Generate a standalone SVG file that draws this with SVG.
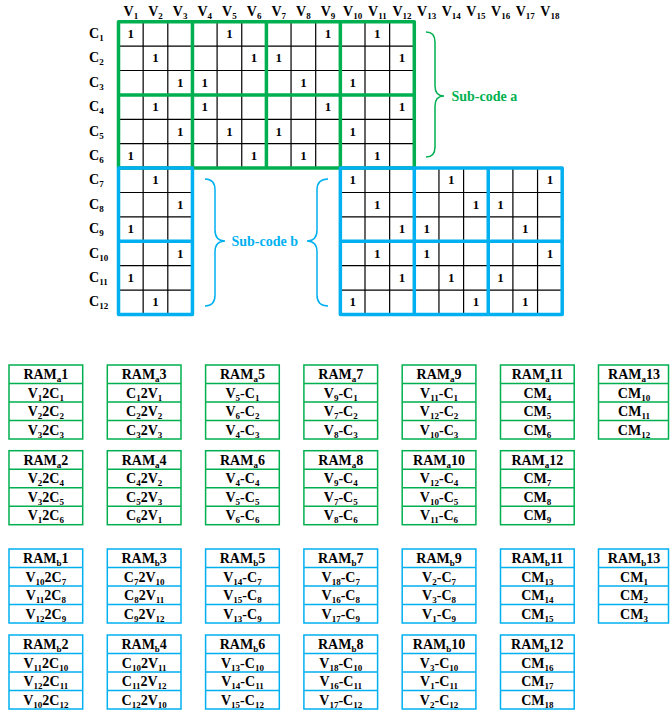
<svg xmlns="http://www.w3.org/2000/svg" xmlns:xlink="http://www.w3.org/1999/xlink" width="670" height="715" viewBox="0 0 670 715">
<style>
.t{font-family:"Liberation Serif","Times New Roman",serif;font-weight:bold;font-size:14px;fill:#000}
.c{text-anchor:middle}
.s{font-size:9px}
.one{font-family:"Liberation Serif","Times New Roman",serif;font-weight:bold;font-size:13px;fill:#000;text-anchor:middle}
.thin{stroke:#000;stroke-width:1.2;fill:none}
.ka{stroke:#00b050;stroke-width:3.5;fill:none;stroke-linejoin:round}
.kb{stroke:#00b0f0;stroke-width:3.5;fill:none;stroke-linejoin:round}
.fa{stroke:#00b050;stroke-width:1.5;fill:#fff}
.fb{stroke:#00b0f0;stroke-width:1.5;fill:#fff}
.fal{stroke:#00b050;stroke-width:1.5;fill:none}
.fbl{stroke:#00b0f0;stroke-width:1.5;fill:none}
.ba{stroke:#00b050;stroke-width:1.5;fill:none}
.bb{stroke:#00b0f0;stroke-width:1.5;fill:none}
.la{fill:#00b050}
.lb{fill:#00b0f0}
</style>
<defs>
<g id="frameA"><rect x="0" y="0" width="73.7" height="74" class="fa"/><path d="M0,18.5H73.7M0,37H73.7M0,55.5H73.7" class="fal"/></g>
<g id="frameB"><rect x="0" y="0" width="73.7" height="74" class="fb"/><path d="M0,18.5H73.7M0,37H73.7M0,55.5H73.7" class="fbl"/></g>
<g id="frameA2"><rect x="0" y="0" width="70" height="74" class="fa"/><path d="M0,18.5H70M0,37H70M0,55.5H70" class="fal"/></g>
<g id="frameB2"><rect x="0" y="0" width="70" height="74" class="fb"/><path d="M0,18.5H70M0,37H70M0,55.5H70" class="fbl"/></g>
</defs>

<g id="column-headers" class="t c">
<text x="130.83" y="16">V<tspan class="s" dy="3">1</tspan></text>
<text x="155.48" y="16">V<tspan class="s" dy="3">2</tspan></text>
<text x="180.13" y="16">V<tspan class="s" dy="3">3</tspan></text>
<text x="204.78" y="16">V<tspan class="s" dy="3">4</tspan></text>
<text x="229.43" y="16">V<tspan class="s" dy="3">5</tspan></text>
<text x="254.08" y="16">V<tspan class="s" dy="3">6</tspan></text>
<text x="278.73" y="16">V<tspan class="s" dy="3">7</tspan></text>
<text x="303.38" y="16">V<tspan class="s" dy="3">8</tspan></text>
<text x="328.03" y="16">V<tspan class="s" dy="3">9</tspan></text>
<text x="352.68" y="16">V<tspan class="s" dy="3">10</tspan></text>
<text x="377.33" y="16">V<tspan class="s" dy="3">11</tspan></text>
<text x="401.98" y="16">V<tspan class="s" dy="3">12</tspan></text>
<text x="426.63" y="16">V<tspan class="s" dy="3">13</tspan></text>
<text x="451.28" y="16">V<tspan class="s" dy="3">14</tspan></text>
<text x="475.93" y="16">V<tspan class="s" dy="3">15</tspan></text>
<text x="500.58" y="16">V<tspan class="s" dy="3">16</tspan></text>
<text x="525.23" y="16">V<tspan class="s" dy="3">17</tspan></text>
<text x="549.88" y="16">V<tspan class="s" dy="3">18</tspan></text>
</g>

<g id="row-labels" class="t">
<text x="89" y="37.9">C<tspan class="s" dy="3">1</tspan></text>
<text x="89" y="62.3">C<tspan class="s" dy="3">2</tspan></text>
<text x="89" y="86.7">C<tspan class="s" dy="3">3</tspan></text>
<text x="89" y="111.1">C<tspan class="s" dy="3">4</tspan></text>
<text x="89" y="135.5">C<tspan class="s" dy="3">5</tspan></text>
<text x="89" y="159.9">C<tspan class="s" dy="3">6</tspan></text>
<text x="89" y="184.3">C<tspan class="s" dy="3">7</tspan></text>
<text x="89" y="208.7">C<tspan class="s" dy="3">8</tspan></text>
<text x="89" y="233.1">C<tspan class="s" dy="3">9</tspan></text>
<text x="89" y="257.5">C<tspan class="s" dy="3">10</tspan></text>
<text x="89" y="281.9">C<tspan class="s" dy="3">11</tspan></text>
<text x="89" y="306.3">C<tspan class="s" dy="3">12</tspan></text>
</g>

<g id="subcode-a-matrix">
<path class="thin" d="M143.15,21.7V168.1M167.8,21.7V168.1M217.1,21.7V168.1M241.75,21.7V168.1M291.05,21.7V168.1M315.7,21.7V168.1M365,21.7V168.1M389.65,21.7V168.1M118.5,46.1H414.3M118.5,70.5H414.3M118.5,119.3H414.3M118.5,143.7H414.3"/>
<rect class="ka" x="118.5" y="21.7" width="295.8" height="146.4"/>
<path class="ka" d="M192.45,21.7V168.1M266.4,21.7V168.1M340.35,21.7V168.1M118.5,94.9H414.3"/>
<g class="one">
<text x="130.83" y="37.9">1</text><text x="229.43" y="37.9">1</text><text x="328.03" y="37.9">1</text><text x="377.33" y="37.9">1</text>
<text x="155.48" y="62.3">1</text><text x="254.08" y="62.3">1</text><text x="278.73" y="62.3">1</text><text x="401.98" y="62.3">1</text>
<text x="180.13" y="86.7">1</text><text x="204.78" y="86.7">1</text><text x="303.38" y="86.7">1</text><text x="352.68" y="86.7">1</text>
<text x="155.48" y="111.1">1</text><text x="204.78" y="111.1">1</text><text x="328.03" y="111.1">1</text><text x="401.98" y="111.1">1</text>
<text x="180.13" y="135.5">1</text><text x="229.43" y="135.5">1</text><text x="278.73" y="135.5">1</text><text x="352.68" y="135.5">1</text>
<text x="130.83" y="159.9">1</text><text x="254.08" y="159.9">1</text><text x="303.38" y="159.9">1</text><text x="377.33" y="159.9">1</text>
</g>
</g>

<g id="subcode-b-left-matrix">
<path class="thin" d="M143.15,168.1V314.5M167.8,168.1V314.5M118.5,192.5H192.45M118.5,216.9H192.45M118.5,265.7H192.45M118.5,290.1H192.45"/>
<rect class="kb" x="118.5" y="168.1" width="73.95" height="146.4"/>
<path class="kb" d="M118.5,241.3H192.45"/>
<g class="one">
<text x="155.48" y="184.3">1</text>
<text x="180.13" y="208.7">1</text>
<text x="130.83" y="233.1">1</text>
<text x="180.13" y="257.5">1</text>
<text x="130.83" y="281.9">1</text>
<text x="155.48" y="306.3">1</text>
</g>
</g>

<g id="subcode-b-right-matrix">
<path class="thin" d="M365,168.1V314.5M389.65,168.1V314.5M438.95,168.1V314.5M463.6,168.1V314.5M512.9,168.1V314.5M537.55,168.1V314.5M340.35,192.5H562.2M340.35,216.9H562.2M340.35,265.7H562.2M340.35,290.1H562.2"/>
<rect class="kb" x="340.35" y="168.1" width="221.85" height="146.4"/>
<path class="kb" d="M414.3,168.1V314.5M488.25,168.1V314.5M340.35,241.3H562.2"/>
<g class="one">
<text x="352.68" y="184.3">1</text><text x="451.28" y="184.3">1</text><text x="549.88" y="184.3">1</text>
<text x="377.33" y="208.7">1</text><text x="475.93" y="208.7">1</text><text x="500.58" y="208.7">1</text>
<text x="401.98" y="233.1">1</text><text x="426.63" y="233.1">1</text><text x="525.23" y="233.1">1</text>
<text x="377.33" y="257.5">1</text><text x="426.63" y="257.5">1</text><text x="549.88" y="257.5">1</text>
<text x="401.98" y="281.9">1</text><text x="451.28" y="281.9">1</text><text x="500.58" y="281.9">1</text>
<text x="352.68" y="306.3">1</text><text x="475.93" y="306.3">1</text><text x="525.23" y="306.3">1</text>
</g>
</g>

<g id="subcode-a-label">
<path class="ba" d="M426,32Q435,32 435,42L435,86Q435,96 444,96Q435,96 435,106L435,147Q435,157 426,157"/>
<text class="t la" x="451.5" y="101">Sub-code a</text>
</g>

<g id="subcode-b-label">
<path class="bb" d="M205,179Q215,179 215,190L215,230Q215,241 225,241Q215,241 215,252L215,295Q215,306 205,306"/>
<path class="bb" d="M328,179Q317,179 317,190L317,230Q317,241 307,241Q317,241 317,252L317,295Q317,306 328,306"/>
<text class="t lb" x="231.5" y="246">Sub-code b</text>
</g>

<g id="connectors"></g>

<!-- RAM a, row 1 -->
<g id="RAMa1" transform="translate(9,365)"><use xlink:href="#frameA"/><g class="t c">
<text x="36.85" y="14.2">RAM<tspan class="s" dy="3">a</tspan><tspan dy="-3">1</tspan></text>
<text x="36.85" y="32.7">V<tspan class="s" dy="3">1</tspan><tspan dy="-3">2C</tspan><tspan class="s" dy="3">1</tspan></text>
<text x="36.85" y="51.2">V<tspan class="s" dy="3">2</tspan><tspan dy="-3">2C</tspan><tspan class="s" dy="3">2</tspan></text>
<text x="36.85" y="69.7">V<tspan class="s" dy="3">3</tspan><tspan dy="-3">2C</tspan><tspan class="s" dy="3">3</tspan></text></g></g>
<g id="RAMa3" transform="translate(107.3,365)"><use xlink:href="#frameA"/><g class="t c">
<text x="36.85" y="14.2">RAM<tspan class="s" dy="3">a</tspan><tspan dy="-3">3</tspan></text>
<text x="36.85" y="32.7">C<tspan class="s" dy="3">1</tspan><tspan dy="-3">2V</tspan><tspan class="s" dy="3">1</tspan></text>
<text x="36.85" y="51.2">C<tspan class="s" dy="3">2</tspan><tspan dy="-3">2V</tspan><tspan class="s" dy="3">2</tspan></text>
<text x="36.85" y="69.7">C<tspan class="s" dy="3">3</tspan><tspan dy="-3">2V</tspan><tspan class="s" dy="3">3</tspan></text></g></g>
<g id="RAMa5" transform="translate(205.6,365)"><use xlink:href="#frameA"/><g class="t c">
<text x="36.85" y="14.2">RAM<tspan class="s" dy="3">a</tspan><tspan dy="-3">5</tspan></text>
<text x="36.85" y="32.7">V<tspan class="s" dy="3">5</tspan><tspan dy="-3">-C</tspan><tspan class="s" dy="3">1</tspan></text>
<text x="36.85" y="51.2">V<tspan class="s" dy="3">6</tspan><tspan dy="-3">-C</tspan><tspan class="s" dy="3">2</tspan></text>
<text x="36.85" y="69.7">V<tspan class="s" dy="3">4</tspan><tspan dy="-3">-C</tspan><tspan class="s" dy="3">3</tspan></text></g></g>
<g id="RAMa7" transform="translate(303.9,365)"><use xlink:href="#frameA"/><g class="t c">
<text x="36.85" y="14.2">RAM<tspan class="s" dy="3">a</tspan><tspan dy="-3">7</tspan></text>
<text x="36.85" y="32.7">V<tspan class="s" dy="3">9</tspan><tspan dy="-3">-C</tspan><tspan class="s" dy="3">1</tspan></text>
<text x="36.85" y="51.2">V<tspan class="s" dy="3">7</tspan><tspan dy="-3">-C</tspan><tspan class="s" dy="3">2</tspan></text>
<text x="36.85" y="69.7">V<tspan class="s" dy="3">8</tspan><tspan dy="-3">-C</tspan><tspan class="s" dy="3">3</tspan></text></g></g>
<g id="RAMa9" transform="translate(402.2,365)"><use xlink:href="#frameA"/><g class="t c">
<text x="36.85" y="14.2">RAM<tspan class="s" dy="3">a</tspan><tspan dy="-3">9</tspan></text>
<text x="36.85" y="32.7">V<tspan class="s" dy="3">11</tspan><tspan dy="-3">-C</tspan><tspan class="s" dy="3">1</tspan></text>
<text x="36.85" y="51.2">V<tspan class="s" dy="3">12</tspan><tspan dy="-3">-C</tspan><tspan class="s" dy="3">2</tspan></text>
<text x="36.85" y="69.7">V<tspan class="s" dy="3">10</tspan><tspan dy="-3">-C</tspan><tspan class="s" dy="3">3</tspan></text></g></g>
<g id="RAMa11" transform="translate(500.5,365)"><use xlink:href="#frameA"/><g class="t c">
<text x="36.85" y="14.2">RAM<tspan class="s" dy="3">a</tspan><tspan dy="-3">11</tspan></text>
<text x="36.85" y="32.7">CM<tspan class="s" dy="3">4</tspan></text>
<text x="36.85" y="51.2">CM<tspan class="s" dy="3">5</tspan></text>
<text x="36.85" y="69.7">CM<tspan class="s" dy="3">6</tspan></text></g></g>
<g id="RAMa13" transform="translate(598.5,365)"><use xlink:href="#frameA2"/><g class="t c">
<text x="35.5" y="14.2">RAM<tspan class="s" dy="3">a</tspan><tspan dy="-3">13</tspan></text>
<text x="35.5" y="32.7">CM<tspan class="s" dy="3">10</tspan></text>
<text x="35.5" y="51.2">CM<tspan class="s" dy="3">11</tspan></text>
<text x="35.5" y="69.7">CM<tspan class="s" dy="3">12</tspan></text></g></g>

<!-- RAM a, row 2 -->
<g id="RAMa2" transform="translate(9,450.7)"><use xlink:href="#frameA"/><g class="t c">
<text x="36.85" y="14.2">RAM<tspan class="s" dy="3">a</tspan><tspan dy="-3">2</tspan></text>
<text x="36.85" y="32.7">V<tspan class="s" dy="3">2</tspan><tspan dy="-3">2C</tspan><tspan class="s" dy="3">4</tspan></text>
<text x="36.85" y="51.2">V<tspan class="s" dy="3">3</tspan><tspan dy="-3">2C</tspan><tspan class="s" dy="3">5</tspan></text>
<text x="36.85" y="69.7">V<tspan class="s" dy="3">1</tspan><tspan dy="-3">2C</tspan><tspan class="s" dy="3">6</tspan></text></g></g>
<g id="RAMa4" transform="translate(107.3,450.7)"><use xlink:href="#frameA"/><g class="t c">
<text x="36.85" y="14.2">RAM<tspan class="s" dy="3">a</tspan><tspan dy="-3">4</tspan></text>
<text x="36.85" y="32.7">C<tspan class="s" dy="3">4</tspan><tspan dy="-3">2V</tspan><tspan class="s" dy="3">2</tspan></text>
<text x="36.85" y="51.2">C<tspan class="s" dy="3">5</tspan><tspan dy="-3">2V</tspan><tspan class="s" dy="3">3</tspan></text>
<text x="36.85" y="69.7">C<tspan class="s" dy="3">6</tspan><tspan dy="-3">2V</tspan><tspan class="s" dy="3">1</tspan></text></g></g>
<g id="RAMa6" transform="translate(205.6,450.7)"><use xlink:href="#frameA"/><g class="t c">
<text x="36.85" y="14.2">RAM<tspan class="s" dy="3">a</tspan><tspan dy="-3">6</tspan></text>
<text x="36.85" y="32.7">V<tspan class="s" dy="3">4</tspan><tspan dy="-3">-C</tspan><tspan class="s" dy="3">4</tspan></text>
<text x="36.85" y="51.2">V<tspan class="s" dy="3">5</tspan><tspan dy="-3">-C</tspan><tspan class="s" dy="3">5</tspan></text>
<text x="36.85" y="69.7">V<tspan class="s" dy="3">6</tspan><tspan dy="-3">-C</tspan><tspan class="s" dy="3">6</tspan></text></g></g>
<g id="RAMa8" transform="translate(303.9,450.7)"><use xlink:href="#frameA"/><g class="t c">
<text x="36.85" y="14.2">RAM<tspan class="s" dy="3">a</tspan><tspan dy="-3">8</tspan></text>
<text x="36.85" y="32.7">V<tspan class="s" dy="3">9</tspan><tspan dy="-3">-C</tspan><tspan class="s" dy="3">4</tspan></text>
<text x="36.85" y="51.2">V<tspan class="s" dy="3">7</tspan><tspan dy="-3">-C</tspan><tspan class="s" dy="3">5</tspan></text>
<text x="36.85" y="69.7">V<tspan class="s" dy="3">8</tspan><tspan dy="-3">-C</tspan><tspan class="s" dy="3">6</tspan></text></g></g>
<g id="RAMa10" transform="translate(402.2,450.7)"><use xlink:href="#frameA"/><g class="t c">
<text x="36.85" y="14.2">RAM<tspan class="s" dy="3">a</tspan><tspan dy="-3">10</tspan></text>
<text x="36.85" y="32.7">V<tspan class="s" dy="3">12</tspan><tspan dy="-3">-C</tspan><tspan class="s" dy="3">4</tspan></text>
<text x="36.85" y="51.2">V<tspan class="s" dy="3">10</tspan><tspan dy="-3">-C</tspan><tspan class="s" dy="3">5</tspan></text>
<text x="36.85" y="69.7">V<tspan class="s" dy="3">11</tspan><tspan dy="-3">-C</tspan><tspan class="s" dy="3">6</tspan></text></g></g>
<g id="RAMa12" transform="translate(500.5,450.7)"><use xlink:href="#frameA"/><g class="t c">
<text x="36.85" y="14.2">RAM<tspan class="s" dy="3">a</tspan><tspan dy="-3">12</tspan></text>
<text x="36.85" y="32.7">CM<tspan class="s" dy="3">7</tspan></text>
<text x="36.85" y="51.2">CM<tspan class="s" dy="3">8</tspan></text>
<text x="36.85" y="69.7">CM<tspan class="s" dy="3">9</tspan></text></g></g>

<!-- RAM b, row 1 -->
<g id="RAMb1" transform="translate(9,549)"><use xlink:href="#frameB"/><g class="t c">
<text x="36.85" y="14.2">RAM<tspan class="s" dy="3">b</tspan><tspan dy="-3">1</tspan></text>
<text x="36.85" y="32.7">V<tspan class="s" dy="3">10</tspan><tspan dy="-3">2C</tspan><tspan class="s" dy="3">7</tspan></text>
<text x="36.85" y="51.2">V<tspan class="s" dy="3">11</tspan><tspan dy="-3">2C</tspan><tspan class="s" dy="3">8</tspan></text>
<text x="36.85" y="69.7">V<tspan class="s" dy="3">12</tspan><tspan dy="-3">2C</tspan><tspan class="s" dy="3">9</tspan></text></g></g>
<g id="RAMb3" transform="translate(107.3,549)"><use xlink:href="#frameB"/><g class="t c">
<text x="36.85" y="14.2">RAM<tspan class="s" dy="3">b</tspan><tspan dy="-3">3</tspan></text>
<text x="36.85" y="32.7">C<tspan class="s" dy="3">7</tspan><tspan dy="-3">2V</tspan><tspan class="s" dy="3">10</tspan></text>
<text x="36.85" y="51.2">C<tspan class="s" dy="3">8</tspan><tspan dy="-3">2V</tspan><tspan class="s" dy="3">11</tspan></text>
<text x="36.85" y="69.7">C<tspan class="s" dy="3">9</tspan><tspan dy="-3">2V</tspan><tspan class="s" dy="3">12</tspan></text></g></g>
<g id="RAMb5" transform="translate(205.6,549)"><use xlink:href="#frameB"/><g class="t c">
<text x="36.85" y="14.2">RAM<tspan class="s" dy="3">b</tspan><tspan dy="-3">5</tspan></text>
<text x="36.85" y="32.7">V<tspan class="s" dy="3">14</tspan><tspan dy="-3">-C</tspan><tspan class="s" dy="3">7</tspan></text>
<text x="36.85" y="51.2">V<tspan class="s" dy="3">15</tspan><tspan dy="-3">-C</tspan><tspan class="s" dy="3">8</tspan></text>
<text x="36.85" y="69.7">V<tspan class="s" dy="3">13</tspan><tspan dy="-3">-C</tspan><tspan class="s" dy="3">9</tspan></text></g></g>
<g id="RAMb7" transform="translate(303.9,549)"><use xlink:href="#frameB"/><g class="t c">
<text x="36.85" y="14.2">RAM<tspan class="s" dy="3">b</tspan><tspan dy="-3">7</tspan></text>
<text x="36.85" y="32.7">V<tspan class="s" dy="3">18</tspan><tspan dy="-3">-C</tspan><tspan class="s" dy="3">7</tspan></text>
<text x="36.85" y="51.2">V<tspan class="s" dy="3">16</tspan><tspan dy="-3">-C</tspan><tspan class="s" dy="3">8</tspan></text>
<text x="36.85" y="69.7">V<tspan class="s" dy="3">17</tspan><tspan dy="-3">-C</tspan><tspan class="s" dy="3">9</tspan></text></g></g>
<g id="RAMb9" transform="translate(402.2,549)"><use xlink:href="#frameB"/><g class="t c">
<text x="36.85" y="14.2">RAM<tspan class="s" dy="3">b</tspan><tspan dy="-3">9</tspan></text>
<text x="36.85" y="32.7">V<tspan class="s" dy="3">2</tspan><tspan dy="-3">-C</tspan><tspan class="s" dy="3">7</tspan></text>
<text x="36.85" y="51.2">V<tspan class="s" dy="3">3</tspan><tspan dy="-3">-C</tspan><tspan class="s" dy="3">8</tspan></text>
<text x="36.85" y="69.7">V<tspan class="s" dy="3">1</tspan><tspan dy="-3">-C</tspan><tspan class="s" dy="3">9</tspan></text></g></g>
<g id="RAMb11" transform="translate(500.5,549)"><use xlink:href="#frameB"/><g class="t c">
<text x="36.85" y="14.2">RAM<tspan class="s" dy="3">b</tspan><tspan dy="-3">11</tspan></text>
<text x="36.85" y="32.7">CM<tspan class="s" dy="3">13</tspan></text>
<text x="36.85" y="51.2">CM<tspan class="s" dy="3">14</tspan></text>
<text x="36.85" y="69.7">CM<tspan class="s" dy="3">15</tspan></text></g></g>
<g id="RAMb13" transform="translate(598.5,549)"><use xlink:href="#frameB2"/><g class="t c">
<text x="35.5" y="14.2">RAM<tspan class="s" dy="3">b</tspan><tspan dy="-3">13</tspan></text>
<text x="35.5" y="32.7">CM<tspan class="s" dy="3">1</tspan></text>
<text x="35.5" y="51.2">CM<tspan class="s" dy="3">2</tspan></text>
<text x="35.5" y="69.7">CM<tspan class="s" dy="3">3</tspan></text></g></g>

<!-- RAM b, row 2 -->
<g id="RAMb2" transform="translate(9,635)"><use xlink:href="#frameB"/><g class="t c">
<text x="36.85" y="14.2">RAM<tspan class="s" dy="3">b</tspan><tspan dy="-3">2</tspan></text>
<text x="36.85" y="32.7">V<tspan class="s" dy="3">11</tspan><tspan dy="-3">2C</tspan><tspan class="s" dy="3">10</tspan></text>
<text x="36.85" y="51.2">V<tspan class="s" dy="3">12</tspan><tspan dy="-3">2C</tspan><tspan class="s" dy="3">11</tspan></text>
<text x="36.85" y="69.7">V<tspan class="s" dy="3">10</tspan><tspan dy="-3">2C</tspan><tspan class="s" dy="3">12</tspan></text></g></g>
<g id="RAMb4" transform="translate(107.3,635)"><use xlink:href="#frameB"/><g class="t c">
<text x="36.85" y="14.2">RAM<tspan class="s" dy="3">b</tspan><tspan dy="-3">4</tspan></text>
<text x="36.85" y="32.7">C<tspan class="s" dy="3">10</tspan><tspan dy="-3">2V</tspan><tspan class="s" dy="3">11</tspan></text>
<text x="36.85" y="51.2">C<tspan class="s" dy="3">11</tspan><tspan dy="-3">2V</tspan><tspan class="s" dy="3">12</tspan></text>
<text x="36.85" y="69.7">C<tspan class="s" dy="3">12</tspan><tspan dy="-3">2V</tspan><tspan class="s" dy="3">10</tspan></text></g></g>
<g id="RAMb6" transform="translate(205.6,635)"><use xlink:href="#frameB"/><g class="t c">
<text x="36.85" y="14.2">RAM<tspan class="s" dy="3">b</tspan><tspan dy="-3">6</tspan></text>
<text x="36.85" y="32.7">V<tspan class="s" dy="3">13</tspan><tspan dy="-3">-C</tspan><tspan class="s" dy="3">10</tspan></text>
<text x="36.85" y="51.2">V<tspan class="s" dy="3">14</tspan><tspan dy="-3">-C</tspan><tspan class="s" dy="3">11</tspan></text>
<text x="36.85" y="69.7">V<tspan class="s" dy="3">15</tspan><tspan dy="-3">-C</tspan><tspan class="s" dy="3">12</tspan></text></g></g>
<g id="RAMb8" transform="translate(303.9,635)"><use xlink:href="#frameB"/><g class="t c">
<text x="36.85" y="14.2">RAM<tspan class="s" dy="3">b</tspan><tspan dy="-3">8</tspan></text>
<text x="36.85" y="32.7">V<tspan class="s" dy="3">18</tspan><tspan dy="-3">-C</tspan><tspan class="s" dy="3">10</tspan></text>
<text x="36.85" y="51.2">V<tspan class="s" dy="3">16</tspan><tspan dy="-3">-C</tspan><tspan class="s" dy="3">11</tspan></text>
<text x="36.85" y="69.7">V<tspan class="s" dy="3">17</tspan><tspan dy="-3">-C</tspan><tspan class="s" dy="3">12</tspan></text></g></g>
<g id="RAMb10" transform="translate(402.2,635)"><use xlink:href="#frameB"/><g class="t c">
<text x="36.85" y="14.2">RAM<tspan class="s" dy="3">b</tspan><tspan dy="-3">10</tspan></text>
<text x="36.85" y="32.7">V<tspan class="s" dy="3">3</tspan><tspan dy="-3">-C</tspan><tspan class="s" dy="3">10</tspan></text>
<text x="36.85" y="51.2">V<tspan class="s" dy="3">1</tspan><tspan dy="-3">-C</tspan><tspan class="s" dy="3">11</tspan></text>
<text x="36.85" y="69.7">V<tspan class="s" dy="3">2</tspan><tspan dy="-3">-C</tspan><tspan class="s" dy="3">12</tspan></text></g></g>
<g id="RAMb12" transform="translate(500.5,635)"><use xlink:href="#frameB"/><g class="t c">
<text x="36.85" y="14.2">RAM<tspan class="s" dy="3">b</tspan><tspan dy="-3">12</tspan></text>
<text x="36.85" y="32.7">CM<tspan class="s" dy="3">16</tspan></text>
<text x="36.85" y="51.2">CM<tspan class="s" dy="3">17</tspan></text>
<text x="36.85" y="69.7">CM<tspan class="s" dy="3">18</tspan></text></g></g>
</svg>
